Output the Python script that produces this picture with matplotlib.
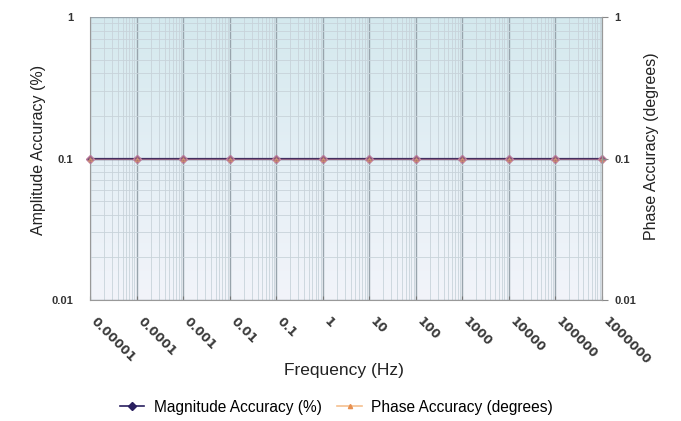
import matplotlib
matplotlib.use("Agg")
import matplotlib.pyplot as plt
import matplotlib.transforms as mtransforms
from matplotlib.ticker import LogLocator, NullFormatter
from matplotlib.colors import LinearSegmentedColormap
from matplotlib.lines import Line2D
import numpy as np

frequencies = [1e-5, 1e-4, 1e-3, 1e-2, 1e-1, 1, 10, 100, 1000, 10000, 100000, 1000000]
freq_labels = ["0.00001", "0.0001", "0.001", "0.01", "0.1", "1", "10", "100",
               "1000", "10000", "100000", "1000000"]
magnitude_accuracy = [0.1, 0.1, 0.1, 0.1, 0.1, 0.1, 0.1, 0.1, 0.1, 0.1, 0.1, 0.1]
phase_accuracy = [0.1, 0.1, 0.1, 0.1, 0.1, 0.1, 0.1, 0.1, 0.1, 0.1, 0.1, 0.1]
y_ticks = [0.01, 0.1, 1]
y_labels = ["0.01", "0.1", "1"]

plt.rcParams['font.family'] = ['Liberation Sans', 'DejaVu Sans']

fig = plt.figure(figsize=(6.81, 4.21), dpi=100)
ax = fig.add_axes([0.1322, 0.2874, 0.7518, 0.6722])

ax.set_xscale('log')
ax.set_yscale('log')
ax.set_xlim(frequencies[0], frequencies[-1])
ax.set_ylim(0.01, 1)

# gradient background
cmap = LinearSegmentedColormap.from_list('bg', ['#f2f4fa', '#e4eff5', '#d4e9ee'])
grad = np.linspace(0, 1, 256).reshape(-1, 1)
ax.imshow(grad, extent=[0, 1, 0, 1], transform=ax.transAxes, cmap=cmap,
          aspect='auto', origin='lower', zorder=0)

ax.xaxis.set_minor_locator(LogLocator(base=10, subs=np.arange(2, 10), numticks=100))
ax.xaxis.set_minor_formatter(NullFormatter())
ax.yaxis.set_minor_locator(LogLocator(base=10, subs=np.arange(2, 10), numticks=100))
ax.yaxis.set_minor_formatter(NullFormatter())

ax.set_axisbelow(True)
ax.grid(True, which='minor', color='#c8d3da', linewidth=0.6, zorder=1)
ax.grid(True, which='major', color='#98a4ac', linewidth=1.0, zorder=1)

ax.plot(frequencies, magnitude_accuracy, color='#3e2c5e', linewidth=1.6,
        marker='D', markersize=4.5, markerfacecolor='#5a3a6e',
        markeredgecolor='#b87898', zorder=3, clip_on=False)
ax.plot(frequencies, phase_accuracy, color='#d890a0', linewidth=0.8, alpha=0.55,
        marker='^', markersize=3, markerfacecolor='#e8a070', markeredgecolor='#e8a070',
        zorder=4, clip_on=False)

ax.set_xticks(frequencies)
ax.set_xticklabels(freq_labels, rotation=-45, ha='left', va='center',
                   rotation_mode='anchor', fontsize=9, fontweight='bold',
                   color='#3a3a3a', family='DejaVu Sans')
ax.tick_params(axis='x', which='major', direction='in', length=3, color='#777777', pad=14)
ax.tick_params(axis='x', which='minor', length=0)
offset = mtransforms.ScaledTranslation(3 / 100, 0, fig.dpi_scale_trans)
for lbl in ax.get_xticklabels():
    lbl.set_transform(lbl.get_transform() + offset)

ax.set_yticks(y_ticks)
ax.set_yticklabels(y_labels, fontsize=8, fontweight='bold', color='#333333')
ax.tick_params(axis='y', which='both', length=0, pad=12)

ax.spines['top'].set_visible(False)
for s in ['left', 'bottom', 'right']:
    ax.spines[s].set_color('#999999')
    ax.spines[s].set_linewidth(0.8)

ax.set_ylabel('Amplitude Accuracy (%)', fontsize=11.5, color='#222222')
ax.yaxis.set_label_coords(-0.086, 0.53)

fig.text(343.5 / 681, 1 - 370 / 421, 'Frequency (Hz)', fontsize=12.5,
         color='#222222', ha='center', va='center')

ax2 = ax.twinx()
ax2.set_yscale('log')
ax2.set_ylim(0.01, 1)
ax2.set_yticks(y_ticks)
ax2.set_yticklabels(y_labels, fontsize=8, fontweight='bold', color='#333333')
ax2.tick_params(axis='y', which='major', length=4, color='#888888', pad=5)
ax2.tick_params(axis='y', which='minor', length=0)
for s in ['top', 'left', 'bottom']:
    ax2.spines[s].set_visible(False)
ax2.spines['right'].set_color('#999999')
ax2.set_ylabel('Phase Accuracy (degrees)', fontsize=11.5, color='#222222')
ax2.yaxis.set_label_coords(1.082, 0.544)

handles = [
    Line2D([], [], color='#2a2060', marker='D', markersize=4, linewidth=1.2,
           markerfacecolor='#2a2060'),
    Line2D([], [], color='#f5c090', marker='^', markersize=3, linewidth=1.2,
           markerfacecolor='#e89050', markeredgecolor='#e89050'),
]
fig.legend(handles, ['Magnitude Accuracy (%)', 'Phase Accuracy (degrees)'],
           loc='center', bbox_to_anchor=(0.494, 0.033), ncol=2, frameon=False,
           fontsize=11.2, handlelength=1.6, handletextpad=0.6, columnspacing=1.0)

fig.savefig('out.png', dpi=100)
